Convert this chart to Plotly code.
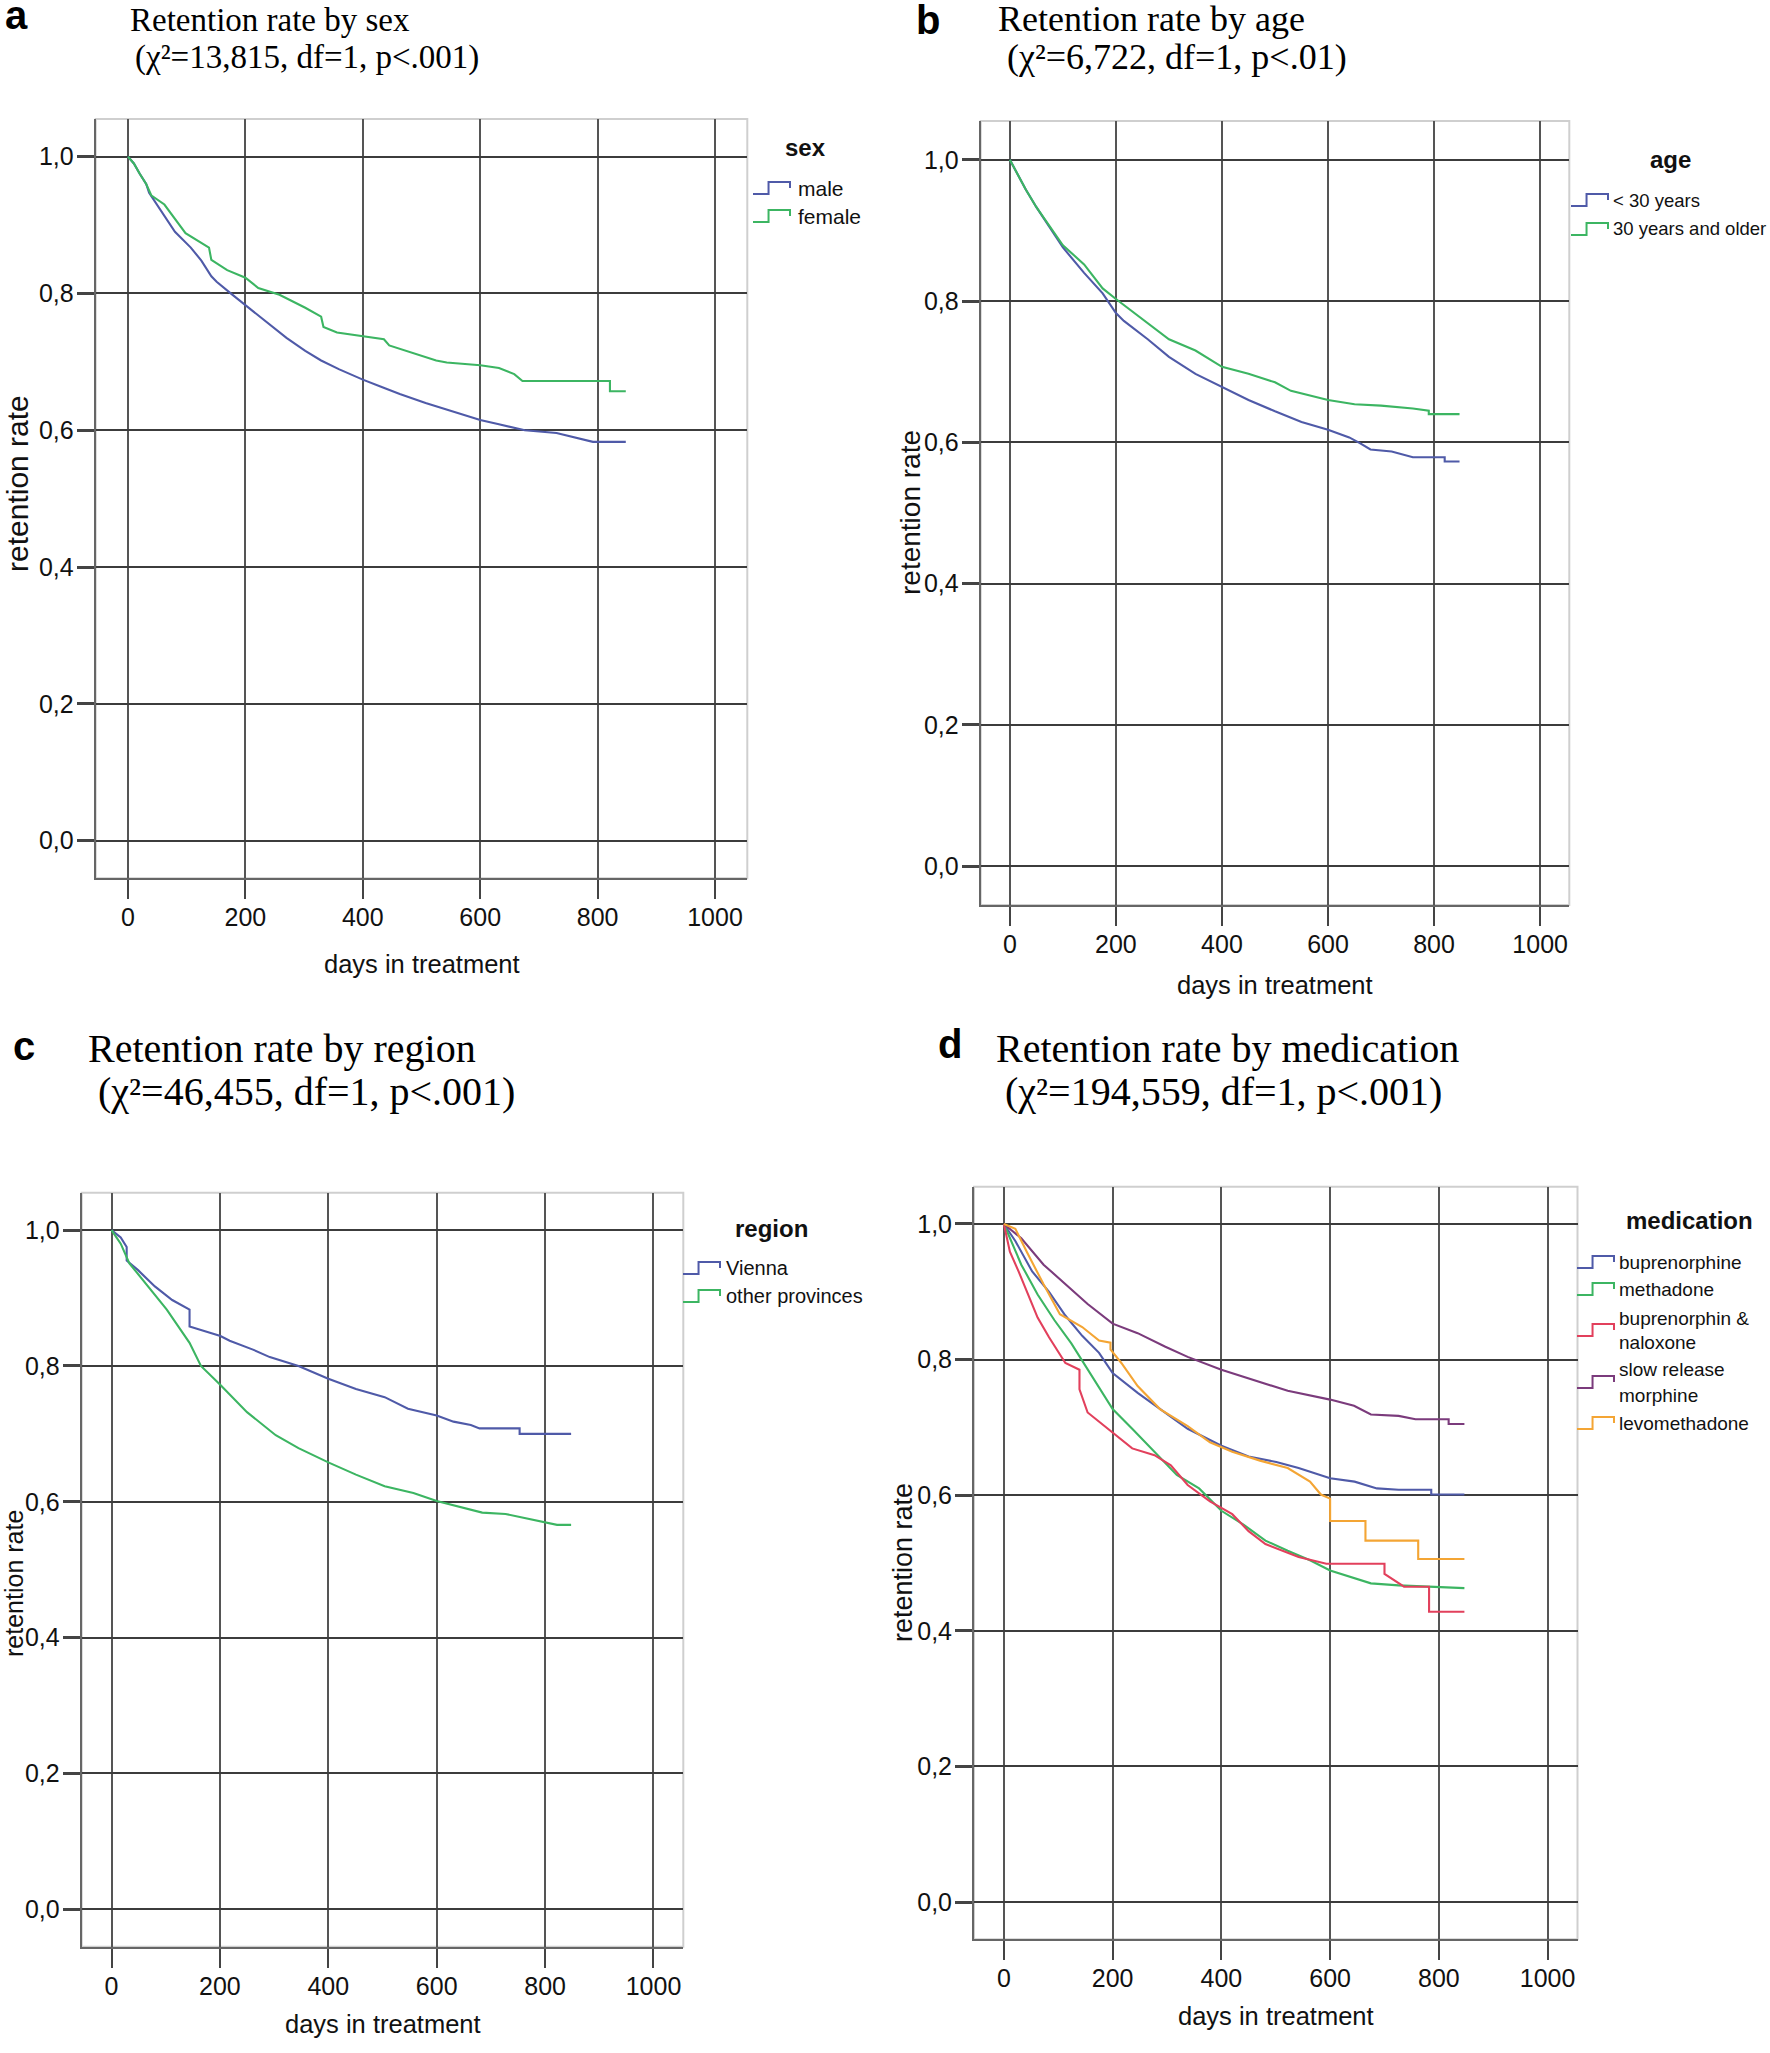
import plotly.graph_objects as go

W, H = 1770, 2053

# ---------------- data ----------------
x_tick_vals = [0, 200, 400, 600, 800, 1000]
x_tick_text = ["0", "200", "400", "600", "800", "1000"]
y_tick_vals = [0.0, 0.2, 0.4, 0.6, 0.8, 1.0]
y_tick_text = ["0,0", "0,2", "0,4", "0,6", "0,8", "1,0"]

# panel a: sex
male_days = [0, 10, 20, 31, 36, 62, 80, 107, 125, 142, 151, 175, 200, 240, 270, 302, 329, 360, 400,
             430, 463, 507, 550, 600, 630, 658, 676, 730, 774, 792, 848]
male_vals = [1.0, 0.99, 0.975, 0.96, 0.947, 0.913, 0.89, 0.867, 0.848, 0.825, 0.817, 0.80, 0.783, 0.756,
             0.735, 0.716, 0.702, 0.689, 0.674, 0.664, 0.653, 0.640, 0.628, 0.615, 0.609, 0.604, 0.600,
             0.596, 0.586, 0.583, 0.583]
female_days = [0, 10, 20, 31, 40, 62, 98, 138, 142, 169, 200, 222, 258, 302, 329, 333, 356, 400, 436,
               445, 489, 525, 543, 600, 632, 658, 672, 821, 821, 848]
female_vals = [1.0, 0.99, 0.975, 0.96, 0.943, 0.930, 0.888, 0.867, 0.849, 0.834, 0.823, 0.808, 0.798,
               0.779, 0.766, 0.751, 0.743, 0.737, 0.733, 0.724, 0.712, 0.702, 0.699, 0.695, 0.691,
               0.682, 0.672, 0.672, 0.657, 0.657]

# panel b: age
young_days = [0, 30, 50, 100, 140, 175, 200, 215, 260, 300, 350, 400, 450, 500, 550, 600, 640, 660,
              680, 720, 760, 820, 820, 848]
young_vals = [1.0, 0.958, 0.933, 0.876, 0.840, 0.811, 0.783, 0.772, 0.746, 0.721, 0.697, 0.679, 0.660,
              0.644, 0.629, 0.618, 0.607, 0.599, 0.590, 0.587, 0.579, 0.579, 0.573, 0.573]
older_days = [0, 30, 50, 100, 140, 175, 200, 250, 300, 350, 400, 450, 500, 530, 600, 650, 700, 760,
              790, 790, 848]
older_vals = [1.0, 0.958, 0.933, 0.879, 0.852, 0.818, 0.803, 0.774, 0.746, 0.730, 0.707, 0.697, 0.685,
              0.673, 0.660, 0.654, 0.652, 0.648, 0.645, 0.640, 0.640]

# panel c: region
vienna_days = [0, 17, 28, 28, 49, 80, 112, 144, 144, 201, 218, 261, 292, 345, 400, 451, 504, 547, 600,
               631, 663, 679, 753, 753, 848]
vienna_vals = [1.0, 0.989, 0.975, 0.955, 0.941, 0.917, 0.897, 0.883, 0.858, 0.844, 0.837, 0.824, 0.813,
               0.800, 0.781, 0.766, 0.754, 0.737, 0.727, 0.718, 0.713, 0.708, 0.708, 0.700, 0.700]
prov_days = [0, 17, 33, 59, 102, 144, 165, 201, 250, 303, 345, 400, 451, 504, 557, 600, 642, 684, 727,
             790, 822, 848]
prov_vals = [1.0, 0.980, 0.951, 0.926, 0.883, 0.834, 0.80, 0.772, 0.732, 0.698, 0.679, 0.658, 0.640,
             0.623, 0.613, 0.601, 0.592, 0.584, 0.582, 0.572, 0.566, 0.566]

# panel d: medication
bup_days = [0, 21, 52, 83, 113, 144, 175, 200, 246, 297, 338, 400, 450, 501, 542, 600, 645, 686, 726,
            786, 786, 847]
bup_vals = [1.0, 0.975, 0.93, 0.90, 0.865, 0.835, 0.81, 0.78, 0.751, 0.722, 0.698, 0.673, 0.657, 0.649,
            0.640, 0.625, 0.620, 0.610, 0.608, 0.608, 0.601, 0.601]
met_days = [0, 11, 32, 62, 93, 124, 154, 200, 236, 277, 318, 359, 400, 440, 481, 522, 563, 600, 634,
            675, 726, 777, 847]
met_vals = [1.0, 0.979, 0.94, 0.896, 0.858, 0.824, 0.785, 0.727, 0.698, 0.664, 0.630, 0.610, 0.577,
            0.557, 0.533, 0.518, 0.504, 0.489, 0.480, 0.470, 0.467, 0.465, 0.463]
bn_days = [0, 11, 27, 42, 62, 83, 113, 139, 139, 154, 200, 236, 277, 307, 338, 379, 420, 450, 481, 512,
           542, 593, 700, 700, 736, 782, 782, 847]
bn_vals = [1.0, 0.959, 0.930, 0.901, 0.862, 0.833, 0.795, 0.785, 0.756, 0.722, 0.693, 0.669, 0.659,
           0.644, 0.615, 0.591, 0.572, 0.547, 0.528, 0.518, 0.509, 0.499, 0.499, 0.484, 0.465, 0.465,
           0.428, 0.428]
srm_days = [0, 32, 73, 113, 154, 200, 246, 297, 338, 400, 461, 522, 600, 644, 675, 726, 757, 818, 818,
            847]
srm_vals = [1.0, 0.979, 0.940, 0.911, 0.882, 0.853, 0.839, 0.819, 0.804, 0.785, 0.770, 0.754, 0.741,
            0.732, 0.719, 0.717, 0.712, 0.712, 0.705, 0.705]
levo_days = [0, 21, 42, 73, 103, 144, 175, 196, 196, 216, 246, 287, 338, 379, 420, 471, 522, 563, 583,
             600, 600, 665, 665, 762, 762, 847]
levo_vals = [1.0, 0.993, 0.959, 0.911, 0.867, 0.848, 0.828, 0.825, 0.815, 0.795, 0.761, 0.727, 0.702,
             0.678, 0.664, 0.651, 0.640, 0.620, 0.601, 0.595, 0.562, 0.562, 0.533, 0.533, 0.506, 0.506]

BLUE, GREEN, RED, PURPLE, ORANGE = "#4f5aa8", "#3cb562", "#e2405c", "#7b3b7c", "#f4a534"

panels = [
    dict(letter="a", title1="Retention rate by sex", title2="(χ²=13,815, df=1, p&lt;.001)",
         legend_title="sex",
         series=[("male", BLUE, male_days, male_vals), ("female", GREEN, female_days, female_vals)]),
    dict(letter="b", title1="Retention rate by age", title2="(χ²=6,722, df=1, p&lt;.01)",
         legend_title="age",
         series=[("&lt; 30 years", BLUE, young_days, young_vals),
                 ("30 years and older", GREEN, older_days, older_vals)]),
    dict(letter="c", title1="Retention rate by region", title2="(χ²=46,455, df=1, p&lt;.001)",
         legend_title="region",
         series=[("Vienna", BLUE, vienna_days, vienna_vals),
                 ("other provinces", GREEN, prov_days, prov_vals)]),
    dict(letter="d", title1="Retention rate by medication",
         title2="(χ²=194,559, df=1, p&lt;.001)", legend_title="medication",
         series=[("buprenorphine", BLUE, bup_days, bup_vals),
                 ("methadone", GREEN, met_days, met_vals),
                 ("buprenorphin &amp;<br>naloxone", RED, bn_days, bn_vals),
                 ("slow release<br>morphine", PURPLE, srm_days, srm_vals),
                 ("levomethadone", ORANGE, levo_days, levo_vals)]),
]

# ---------------- layout geometry (pixels of the page) ----------------
geom = [
    dict(box=(95.7, 119, 747.3, 878.3), letter=(16, 15), t1=(128, 20, 33), t2=(133, 57, 33),
         ylab=(17, 484, 30), xlab=(421.5, 964), leg_title=(805, 147), leg_icon_x=753, leg_text_x=796,
         leg_rows=[[188], [216]], leg_size=21),
    dict(box=(980.7, 121, 1569.3, 905), letter=(928, 20), t1=(996, 19, 36), t2=(1005, 57, 36),
         ylab=(911, 512, 28), xlab=(1275, 985), leg_title=(1670, 160), leg_icon_x=1571, leg_text_x=1611,
         leg_rows=[[200], [229]], leg_size=18.5),
    dict(box=(81.7, 1192.7, 683.3, 1946.7), letter=(24, 1046), t1=(86, 1048, 40), t2=(96, 1091, 40),
         ylab=(14, 1584, 25), xlab=(382.5, 2024), leg_title=(771, 1228), leg_icon_x=683, leg_text_x=724,
         leg_rows=[[1268], [1296]], leg_size=20),
    dict(box=(974, 1186.7, 1577.5, 1939.3), letter=(950, 1044), t1=(994, 1048, 40), t2=(1003, 1091, 40),
         ylab=(903, 1562, 27), xlab=(1276, 2016), leg_title=(1689, 1220), leg_icon_x=1577,
         leg_text_x=1617, leg_rows=[[1262], [1289], [1318, 1342], [1369, 1395], [1423]], leg_size=19),
]

SANS = "Liberation Sans, Arial, sans-serif"
SERIF = "Liberation Serif, Times New Roman, serif"
TXT = "#111"


def px(x):
    return x / W


def py(y):
    return 1 - y / H


fig = go.Figure()
layout = dict(width=W, height=H, margin=dict(l=0, r=0, t=0, b=0), paper_bgcolor="white",
              plot_bgcolor="white", showlegend=False)
annotations = []
shapes = []

for i, (p, g) in enumerate(zip(panels, geom), start=1):
    sfx = "" if i == 1 else str(i)
    xa, ya = "x" + sfx, "y" + sfx
    for name, color, d, v in p["series"]:
        fig.add_trace(go.Scatter(x=d, y=v, mode="lines", name=name.replace("<br>", " "),
                                 xaxis=xa, yaxis=ya, line=dict(color=color, width=2.1)))
    l, t, r, b = g["box"]
    layout["xaxis" + sfx] = dict(domain=[px(l), px(r)], range=[-55, 1055], anchor=ya,
                                 tickvals=x_tick_vals, ticktext=x_tick_text, ticks="outside",
                                 ticklen=19, tickwidth=2, tickcolor="#444", showgrid=True,
                                 gridcolor="#555", gridwidth=1.6, showline=True, linecolor="#666",
                                 linewidth=2, zeroline=False, ticklabelstandoff=-3,
                                 tickfont=dict(family=SANS, size=25, color=TXT))
    layout["yaxis" + sfx] = dict(domain=[py(b), py(t)], range=[-0.055, 1.055], anchor=xa,
                                 tickvals=y_tick_vals, ticktext=y_tick_text, ticks="outside",
                                 ticklen=17, tickwidth=2.5, tickcolor="#444", showgrid=True,
                                 gridcolor="#3c3c3c", gridwidth=2, showline=True, linecolor="#666",
                                 linewidth=2, zeroline=False, ticklabelstandoff=-2,
                                 tickfont=dict(family=SANS, size=25, color=TXT))
    # light box around the plot area
    shapes.append(dict(type="rect", xref=xa + " domain", yref=ya + " domain", x0=0, x1=1, y0=0, y1=1,
                       line=dict(color="#cfcfcf", width=2), layer="below"))

    # panel letter
    lx, ly = g["letter"]
    annotations.append(dict(x=px(lx), y=py(ly), xref="paper", yref="paper", text="<b>%s</b>" % p["letter"],
                            showarrow=False, xanchor="center", yanchor="middle",
                            font=dict(family=SANS, size=40, color="#000")))
    # titles
    x1_, y1_, s1 = g["t1"]
    x2_, y2_, s2 = g["t2"]
    annotations.append(dict(x=px(x1_), y=py(y1_), xref="paper", yref="paper", text=p["title1"],
                            showarrow=False, xanchor="left", yanchor="middle",
                            font=dict(family=SERIF, size=s1, color="#000")))
    annotations.append(dict(x=px(x2_), y=py(y2_), xref="paper", yref="paper", text=p["title2"],
                            showarrow=False, xanchor="left", yanchor="middle",
                            font=dict(family=SERIF, size=s2, color="#000")))
    # axis titles
    yx, yy, ys = g["ylab"]
    annotations.append(dict(x=px(yx), y=py(yy), xref="paper", yref="paper", text="retention rate",
                            showarrow=False, textangle=-90, xanchor="center", yanchor="middle",
                            font=dict(family=SANS, size=ys, color=TXT)))
    xx, xy = g["xlab"]
    annotations.append(dict(x=px(xx), y=py(xy), xref="paper", yref="paper", text="days in treatment",
                            showarrow=False, xanchor="center", yanchor="middle",
                            font=dict(family=SANS, size=25.5, color=TXT)))
    # legend
    tx, ty = g["leg_title"]
    annotations.append(dict(x=px(tx), y=py(ty), xref="paper", yref="paper",
                            text="<b>%s</b>" % p["legend_title"], showarrow=False, xanchor="center",
                            yanchor="middle", font=dict(family=SANS, size=24, color=TXT)))
    for (name, color, _, _), rows in zip(p["series"], g["leg_rows"]):
        lines = name.split("<br>")
        for txt, yrow in zip(lines, rows):
            annotations.append(dict(x=px(g["leg_text_x"]), y=py(yrow), xref="paper", yref="paper",
                                    text=txt, showarrow=False, xanchor="left", yanchor="middle",
                                    font=dict(family=SANS, size=g["leg_size"], color=TXT)))
        yc = sum(rows) / len(rows)
        x0 = g["leg_icon_x"]
        w, h = 37, 12
        yb, yt = yc + h / 2, yc - h / 2
        path = "M %f,%f L %f,%f L %f,%f L %f,%f L %f,%f" % (
            px(x0), py(yb), px(x0 + 0.42 * w), py(yb), px(x0 + 0.42 * w), py(yt),
            px(x0 + w), py(yt), px(x0 + w), py(yt + 0.5 * h))
        shapes.append(dict(type="path", xref="paper", yref="paper", path=path,
                           line=dict(color=color, width=2)))

layout["annotations"] = annotations
layout["shapes"] = shapes
fig.update_layout(**layout)
# remove the browser's default page margin so the figure sits at the window's top-left corner
fig.write_html("out.html", config={"displayModeBar": False},
               post_script="document.body.style.margin='0';document.body.style.overflow='hidden';")
